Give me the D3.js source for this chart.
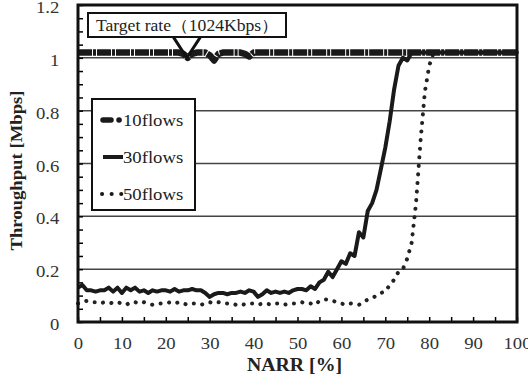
<!DOCTYPE html>
<html>
<head>
<meta charset="utf-8">
<script src="https://cdn.jsdelivr.net/npm/d3@7"></script>
<style>
  body { margin: 0; background: #fff; }
</style>
</head>
<body>
<div id="chart-area"></div>
<script>
// data
const narr = [0,1,2,3,4,5,6,7,8,9,10,11,12,13,14,15,16,17,18,19,20,21,22,23,24,25,26,27,28,29,30,
  31,32,33,34,35,36,37,38,39,40,41,42,43,44,45,46,47,48,49,50,51,52,53,54,55,56,57,58,59,60,
  61,62,63,64,65,66,67,68,69,70,71,72,73,74,75,76,77,78,79,80,81,82,83,84,85,86,87,88,89,90,
  91,92,93,94,95,96,97,98,99,100]

const flows10 = [1.02,1.02,1.02,1.02,1.02,1.02,1.02,1.02,1.02,1.02,1.02,1.02,1.02,1.02,1.02,1.02,1.02,1.02,1.02,1.02,1.02,
  1.02,1.02,1.02,1.015,1.0,1.015,1.02,1.02,1.02,1.01,0.99,1.015,1.02,1.02,1.02,1.02,1.02,1.015,1.005,1.02,
  1.02,1.02,1.02,1.02,1.02,1.02,1.02,1.02,1.02,1.02,1.02,1.02,1.02,1.02,1.02,1.02,1.02,1.02,1.02,1.02,
  1.02,1.02,1.02,1.02,1.02,1.02,1.02,1.02,1.02,1.02,1.02,1.02,1.02,1.02,1.02,1.02,1.02,1.02,1.02,1.02,
  1.02,1.02,1.02,1.02,1.02,1.02,1.02,1.02,1.02,1.02,1.02,1.02,1.02,1.02,1.02,1.02,1.02,1.02,1.02,1.02]

const flows30 = [0.13,0.14,0.12,0.12,0.115,0.12,0.12,0.13,0.115,0.13,0.11,0.13,0.12,0.13,0.115,0.12,0.11,0.12,0.115,0.12,0.12,
  0.115,0.125,0.115,0.12,0.12,0.125,0.12,0.12,0.11,0.095,0.105,0.11,0.11,0.105,0.11,0.11,0.115,0.11,0.12,0.115,
  0.095,0.105,0.12,0.11,0.115,0.11,0.115,0.11,0.12,0.125,0.125,0.12,0.135,0.125,0.15,0.16,0.19,0.17,0.2,0.23,
  0.22,0.26,0.25,0.34,0.32,0.42,0.45,0.5,0.58,0.66,0.76,0.88,0.97,1.0,0.99,1.02,1.02,1.02,1.02,1.02,
  1.02,1.02,1.02,1.02,1.02,1.02,1.02,1.02,1.02,1.02,1.02,1.02,1.02,1.02,1.02,1.02,1.02,1.02,1.02,1.02]

const flows50 = [0.07,0.075,0.08,0.075,0.075,0.07,0.075,0.075,0.07,0.075,0.07,0.065,0.075,0.075,0.07,0.075,0.07,0.065,0.07,0.07,0.07,
  0.075,0.07,0.075,0.07,0.065,0.07,0.07,0.065,0.07,0.075,0.07,0.075,0.07,0.07,0.07,0.065,0.07,0.065,0.07,0.07,
  0.065,0.07,0.07,0.065,0.07,0.07,0.065,0.07,0.07,0.07,0.075,0.07,0.07,0.065,0.08,0.085,0.085,0.08,0.075,0.07,
  0.065,0.07,0.068,0.065,0.075,0.085,0.09,0.1,0.11,0.115,0.14,0.16,0.19,0.2,0.24,0.3,0.45,0.68,0.87,0.97,
  1.02,1.02,1.02,1.02,1.02,1.02,1.02,1.02,1.02,1.02,1.02,1.02,1.02,1.02,1.02,1.02,1.02,1.02,1.02,1.02]

const seriesNames = ["10flows", "30flows", "50flows"]
const xTicks = [0,10,20,30,40,50,60,70,80,90,100]
const yTicks = [0,0.2,0.4,0.6,0.8,1,1.2]
const yTickLabels = ["0","0.2","0.4","0.6","0.8","1","1.2"]
const gridValues = [0.2,0.4,0.6,0.8,1]
const annotationText = "Target rate（1024Kbps）"
const targetNarr = 24.8
const targetValue = 1.0

const FONT = "'Liberation Serif', 'Times New Roman', 'DejaVu Serif', serif"
const MARGIN = { LEFT: 78, RIGHT: 11, TOP: 5, BOTTOM: 59 }
const WIDTH = 528 - MARGIN.LEFT - MARGIN.RIGHT
const HEIGHT = 381 - MARGIN.TOP - MARGIN.BOTTOM
const STRETCH = 1.1

const svg = d3.select("#chart-area").append("svg")
  .attr("width", 528)
  .attr("height", 381)
  .attr("font-family", FONT)

const g = svg.append("g")
  .attr("transform", `translate(${MARGIN.LEFT}, ${MARGIN.TOP})`)

const x = d3.scaleLinear().domain([0, 100]).range([0, WIDTH])
const y = d3.scaleLinear().domain([0, 1.2]).range([HEIGHT, 0])

// grid lines
g.selectAll("line.grid")
  .data(gridValues)
  .enter().append("line")
    .attr("class", "grid")
    .attr("x1", 0)
    .attr("x2", WIDTH)
    .attr("y1", d => y(d))
    .attr("y2", d => y(d))
    .attr("stroke", "#444")
    .attr("stroke-width", 1.5)

// minor ticks (inward)
g.append("g")
  .attr("transform", `translate(0, ${HEIGHT})`)
  .call(d3.axisBottom(x).tickValues(d3.range(0, 21).map(i => i * 5)).tickSize(-5).tickFormat(""))
  .call(a => a.select(".domain").remove())
  .selectAll("line").attr("stroke", "#000").attr("stroke-width", 1.5)

g.append("g")
  .call(d3.axisLeft(y).tickValues(d3.range(0, 25).map(i => i * 0.05)).tickSize(-5).tickFormat(""))
  .call(a => a.select(".domain").remove())
  .selectAll("line").attr("stroke", "#000").attr("stroke-width", 1.5)

// tick labels
g.append("g")
  .attr("transform", `translate(0, ${HEIGHT})`)
  .call(d3.axisBottom(x).tickValues(xTicks).tickSize(0).tickPadding(15))
  .attr("font-family", FONT)
  .call(a => a.select(".domain").remove())
  .selectAll("text")
    .attr("font-size", "17px")
    .attr("fill", "#333")
    .attr("transform", `scale(${STRETCH},1)`)

g.append("g")
  .call(d3.axisLeft(y).tickValues(yTicks).tickSize(0).tickPadding(17)
    .tickFormat((d, i) => yTickLabels[i]))
  .attr("font-family", FONT)
  .call(a => a.select(".domain").remove())
  .selectAll("text")
    .attr("font-size", "17px")
    .attr("fill", "#333")
    .attr("dy", "0.45em")
    .attr("transform", `scale(${STRETCH},1)`)

// lines
const line = vals => d3.line()
  .x((d, i) => x(narr[i]))
  .y(d => y(d))(vals)

g.append("path")
  .attr("d", line(flows50))
  .attr("fill", "none")
  .attr("stroke", "#222")
  .attr("stroke-width", 4)
  .attr("stroke-linecap", "round")
  .attr("stroke-dasharray", "0.1,8.5")

g.append("path")
  .attr("d", line(flows30))
  .attr("fill", "none")
  .attr("stroke", "#1a1a1a")
  .attr("stroke-width", 4)
  .attr("stroke-linejoin", "round")

g.append("path")
  .attr("d", line(flows10))
  .attr("fill", "none")
  .attr("stroke", "#1a1a1a")
  .attr("stroke-width", 6.5)
  .attr("stroke-linejoin", "round")
  .attr("stroke-dasharray", "14,1,3,1")

// frame
g.append("rect")
  .attr("width", WIDTH)
  .attr("height", HEIGHT)
  .attr("fill", "none")
  .attr("stroke", "#111")
  .attr("stroke-width", 3)

// annotation
const ann = g.append("g")
ann.append("polyline")
  .attr("points", `${x(targetNarr) - 20},${y(1.116)} ${x(targetNarr)},${y(targetValue)} ${x(targetNarr) + 20},${y(1.116)}`)
  .attr("fill", "none")
  .attr("stroke", "#111")
  .attr("stroke-width", 3)
ann.append("rect")
  .attr("x", 10)
  .attr("y", 8)
  .attr("width", 198)
  .attr("height", 24)
  .attr("fill", "#fff")
  .attr("stroke", "#111")
  .attr("stroke-width", 2)
ann.append("text")
  .attr("x", 18 / STRETCH)
  .attr("y", 26)
  .attr("font-size", "16px")
  .attr("fill", "#222")
  .attr("transform", `scale(${STRETCH},1)`)
  .text(annotationText)

// legend
const legend = g.append("g")
  .attr("transform", "translate(14, 94)")
legend.append("rect")
  .attr("width", 103)
  .attr("height", 111)
  .attr("fill", "#fff")
  .attr("stroke", "#111")
  .attr("stroke-width", 2)

const legendStyles = [
  { w: 5.5, dash: "8,8,0.1,8", cap: "round" },
  { w: 4, dash: null, cap: "butt" },
  { w: 4, dash: "0.1,9.5", cap: "round" }
]
seriesNames.forEach((name, i) => {
  const ly = 21 + i * 37
  legend.append("line")
    .attr("x1", i === 2 ? 10 : 11)
    .attr("x2", 31)
    .attr("y1", ly)
    .attr("y2", ly)
    .attr("stroke", "#1a1a1a")
    .attr("stroke-width", legendStyles[i].w)
    .attr("stroke-linecap", legendStyles[i].cap)
    .attr("stroke-dasharray", legendStyles[i].dash)
  legend.append("text")
    .attr("x", 31 / STRETCH)
    .attr("y", ly + 6)
    .attr("font-size", "17px")
    .attr("fill", "#222")
    .attr("transform", `scale(${STRETCH},1)`)
    .text(name)
})

// axis titles
g.append("text")
  .attr("x", (WIDTH / 2 - 3) / STRETCH)
  .attr("y", HEIGHT + 49)
  .attr("font-size", "18px")
  .attr("font-weight", "bold")
  .attr("text-anchor", "middle")
  .attr("fill", "#222")
  .attr("transform", `scale(${STRETCH},1)`)
  .text("NARR [%]")

g.append("text")
  .attr("transform", `translate(-56, ${HEIGHT / 2 + 7}) rotate(-90) scale(${STRETCH},1)`)
  .attr("font-size", "17px")
  .attr("font-weight", "bold")
  .attr("text-anchor", "middle")
  .attr("fill", "#222")
  .text("Throughput [Mbps]")
</script>
</body>
</html>
